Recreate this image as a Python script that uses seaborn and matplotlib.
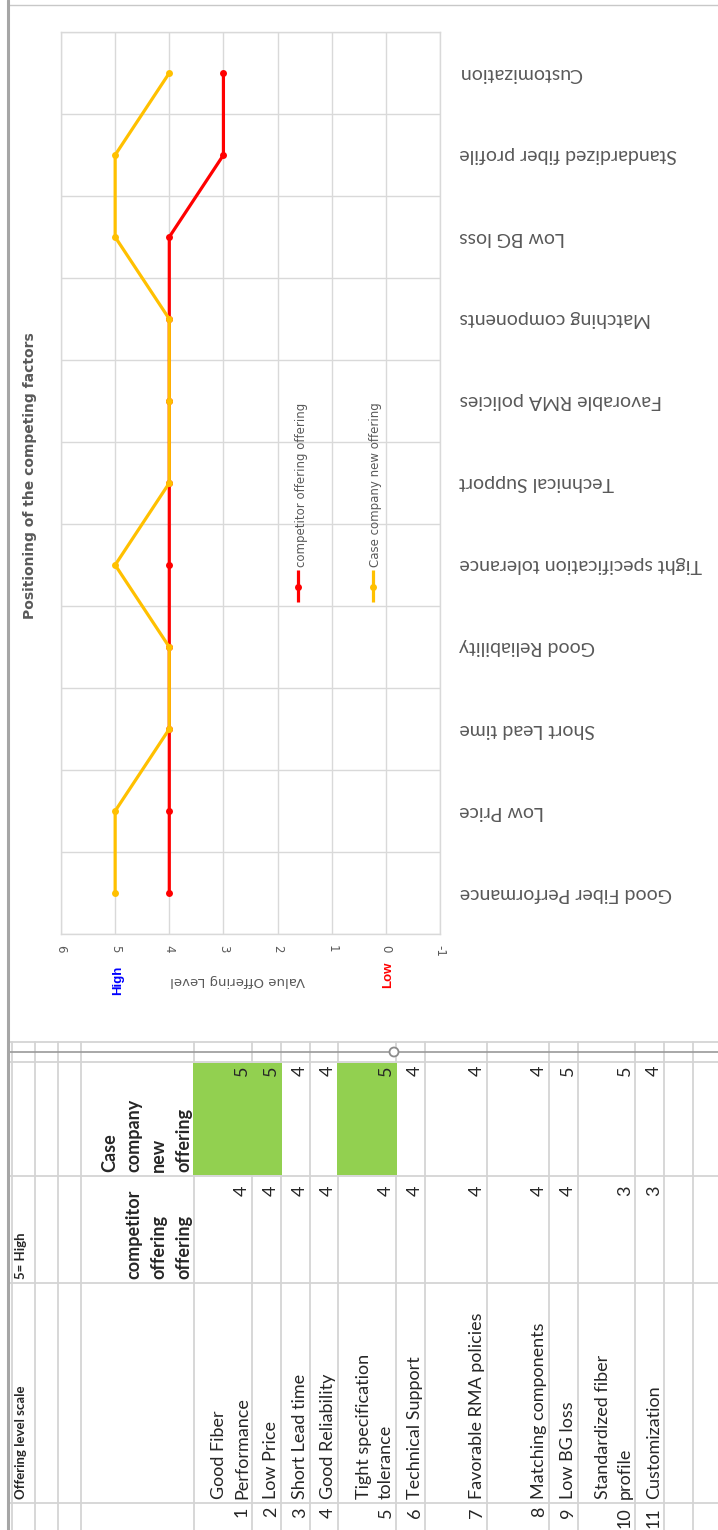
import numpy as np
import pandas as pd
import matplotlib
matplotlib.use("Agg")
import matplotlib.pyplot as plt
import seaborn as sns

# ---- data -------------------------------------------------------------
factors = ["Good Fiber Performance", "Low Price", "Short Lead time", "Good Reliability",
           "Tight specification tolerance", "Technical Support", "Favorable RMA policies",
           "Matching components", "Low BG loss", "Standardized fiber profile", "Customization"]
table_factors = ["Good Fiber\nPerformance", "Low Price", "Short Lead time", "Good Reliability",
                 "Tight specification\ntolerance", "Technical Support", "Favorable RMA policies",
                 "Matching components", "Low BG loss", "Standardized fiber\nprofile", "Customization"]
competitor = [4, 4, 4, 4, 4, 4, 4, 4, 4, 3, 3]
case_company = [5, 5, 4, 4, 5, 4, 4, 4, 5, 5, 4]
series_names = ["competitor offering offering", "Case company new offering"]
series_colors = ["#FF0000", "#FFC000"]
value_ticks = [6, 5, 4, 3, 2, 1, 0, -1]
highlight_rows = [1, 2, 5]          # green cells in the "new offering" column
title = "Positioning of the competing factors"

# ---- page setup (pixel canvas, sheet rotated a quarter turn) ----------
W, H = 718, 1530
sns.set_style("white")
plt.rcParams["font.family"] = ["DejaVu Sans"]
fig = plt.figure(figsize=(W / 100, H / 100), dpi=100)

# plot area in pixels
px0, px1, py0, py1 = 61, 440, 32, 934
ax = fig.add_axes([px0 / W, 1 - py1 / H, (px1 - px0) / W, (py1 - py0) / H], zorder=2)

pos = list(range(len(factors)))
df = pd.DataFrame({
    "pos": pos + pos,
    "level": competitor + case_company,
    "series": [series_names[0]] * len(pos) + [series_names[1]] * len(pos),
})
sns.lineplot(data=df, x="level", y="pos", hue="series", hue_order=series_names,
             palette=series_colors, orient="y", marker="o", markersize=5,
             markeredgewidth=0, linewidth=2.3, errorbar=None, legend=False, ax=ax)

ax.set_xlim(6, -1)
ax.set_ylim(-0.5, len(factors) - 0.5)
ax.set_xlabel("")
ax.set_ylabel("")

ax.set_xticks(value_ticks)
ax.set_xticklabels([str(v) for v in value_ticks], rotation=-90, fontsize=8.5, color="#595959")
ax.tick_params(axis="x", length=0, pad=8)

ax.yaxis.tick_right()
ax.set_yticks(pos)
ax.set_yticklabels(factors, rotation=180, fontsize=14, color="#595959",
                   family=["Lato", "DejaVu Sans"], ha="left", va="center")
ax.set_yticks(np.arange(-0.5, len(factors), 1), minor=True)
ax.tick_params(axis="y", which="both", length=0, pad=14)

ax.grid(axis="x", color="#D9D9D9", lw=1)
ax.grid(axis="y", which="minor", color="#D9D9D9", lw=1)
ax.grid(axis="y", which="major", visible=False)
for s in ax.spines.values():
    s.set_color("#D9D9D9")
    s.set_linewidth(1)

# ---- overlay in pixel coordinates -------------------------------------
ov = fig.add_axes([0, 0, 1, 1], zorder=5)
ov.set_xlim(0, W)
ov.set_ylim(H, 0)
ov.axis("off")
ov.patch.set_alpha(0)

gray_txt = "#595959"
ov.text(30, 476, title, rotation=90, ha="center", va="center",
        fontsize=10, weight="bold", color=gray_txt)

# legend entries
for lx, col, name in zip([298, 373], series_colors, series_names):
    ov.plot([lx, lx], [570, 602], color=col, lw=2.3, solid_capstyle="butt")
    ov.plot([lx], [587], "o", color=col, ms=5, mew=0)
    ov.text(lx + 3, 567, name, rotation=90, ha="center", va="bottom",
            fontsize=8.5, color=gray_txt)

ov.text(238, 980, "Value Offering Level", rotation=180, ha="center", va="center",
        fontsize=9.5, color=gray_txt)
ov.text(118, 980, "High", rotation=90, ha="center", va="center",
        fontsize=9.5, weight="bold", color="#0000FF", family=["Liberation Sans", "DejaVu Sans"])
ov.text(388, 975, "Low", rotation=90, ha="center", va="center",
        fontsize=9.5, weight="bold", color="#FF0000", family=["Liberation Sans", "DejaVu Sans"])

# chart frame
ov.plot([8, W], [5, 5], color="#C8C8C8", lw=1)

# ---- worksheet grid ---------------------------------------------------
grid_c = "#D4D4D4"
row_lines = [12, 35, 58, 81, 194, 252, 281, 310, 338, 396, 425, 487, 549, 578, 635, 664, 693]
col_lines = [1042, 1062, 1176, 1283, 1503]
data_rows = [194, 252, 281, 310, 338, 396, 425, 487, 549, 578, 635, 664]

for xl in row_lines:
    ov.plot([xl, xl], [1042, H], color=grid_c, lw=1.3, zorder=2)
for yl in col_lines:
    ov.plot([8, W], [yl, yl], color=grid_c, lw=1.3, zorder=2)

# green filled cells cover the sheet gridlines
for r in highlight_rows:
    x0, x1 = data_rows[r - 1], data_rows[r]
    ov.add_patch(plt.Rectangle((x0 - 0.6, 1062.6), x1 - x0 + 1.2, 1176 - 1063.2,
                               facecolor="#92D050", edgecolor="none", zorder=2.5))

ov.plot([8, W], [1052, 1052], color="#9A9A9A", lw=1.2, zorder=3)
ov.add_patch(plt.Circle((394, 1052), 4.5, facecolor="white", edgecolor="#8C8C8C",
                        lw=1.3, zorder=4))
ov.plot([8, 8], [0, H], color="#A6A6A6", lw=2.2, zorder=4)

tfont = ["Lato", "DejaVu Sans"]
ov.text(21, 1499, "Offering level scale", rotation=90, ha="center", va="bottom",
        fontsize=9.5, weight="bold", family=tfont)
ov.text(21, 1279, "5= High", rotation=90, ha="center", va="bottom",
        fontsize=9.5, weight="bold", family=tfont)
ov.text(192, 1279, "competitor\noffering\noffering", rotation=90, ha="right", va="bottom",
        ma="left", fontsize=13, weight="bold", family=tfont, linespacing=1.55)
ov.text(192, 1172, "Case\ncompany\nnew\noffering", rotation=90, ha="right", va="bottom",
        ma="left", fontsize=13, weight="bold", family=tfont, linespacing=1.55)

for i, name in enumerate(table_factors):
    xr = data_rows[i + 1] - 2
    ov.text(xr, 1499, name, rotation=90, ha="right", va="bottom", ma="left",
            fontsize=13, family=tfont, linespacing=1.5, zorder=5)
    ov.text(xr, 1507, str(i + 1), rotation=90, ha="right", va="top",
            fontsize=13, family=tfont, zorder=5)
    ov.text(xr, 1186, str(competitor[i]), rotation=90, ha="right", va="top",
            fontsize=13, family=tfont, zorder=5)
    ov.text(xr, 1066, str(case_company[i]), rotation=90, ha="right", va="top",
            fontsize=13, family=tfont, zorder=5)

fig.savefig("out.png", dpi=100, facecolor="white")
